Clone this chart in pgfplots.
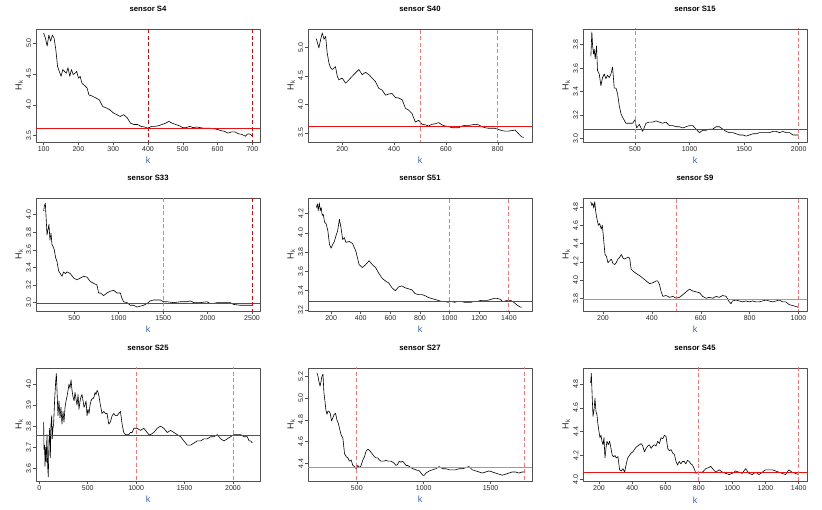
\documentclass[border=0pt]{standalone}
\usepackage{pgfplots}
\pgfplotsset{compat=1.18}
\usepackage{fontspec}
\setmainfont{Liberation Sans}
\definecolor{hred}{RGB}{230,20,20}
\definecolor{dred}{RGB}{205,10,10}
\definecolor{lred}{RGB}{240,120,120}
\definecolor{kblue}{RGB}{54,100,170}
\definecolor{frame}{RGB}{80,80,80}
\newcommand{\vl}[2][lred]{\addplot[#1, line width=0.8pt, dash pattern=on 4pt off 2.5pt] coordinates {(#2,0) (#2,10)};}
\newcommand{\hl}[2][hred]{\addplot[#1, line width=1pt] coordinates {(-1000,#2) (5000,#2)};}
\pgfplotsset{
  panel/.style={
    scale only axis, width=224pt, height=113pt,
    axis line style={frame, line width=0.6pt},
    tick align=outside, xtick pos=left, ytick pos=left,
    major tick length=3pt,
    every tick/.style={frame, line width=0.5pt},
    /pgf/number format/assume math mode=true,
    /pgf/number format/1000 sep={},
    scaled ticks=false,
    ticklabel style={font=\fontsize{7}{8}\selectfont, text=black!85},
    yticklabel style={rotate=90, anchor=south, inner sep=1.5pt, /pgf/number format/.cd, fixed, fixed zerofill, precision=1},
    xticklabel style={inner sep=1.5pt},
    title style={font=\bfseries\fontsize{7.7}{9}\selectfont, at={(axis description cs:0.5,1)}, anchor=base, inner sep=0pt, yshift=11pt},
    xlabel={k},
    xlabel style={font=\fontsize{9}{10}\selectfont, text=kblue, at={(axis description cs:0.5,0)}, anchor=base, inner sep=0pt, yshift=-22pt},
    ylabel={H\textsubscript{k}},
    ylabel style={font=\fontsize{9}{10}\selectfont, text=black!85, at={(axis description cs:-0.058,0.5)}, anchor=south, inner sep=0pt},
    line join=round,
  },
  series/.style={black, line width=0.6pt},
}
\begin{document}
\begin{tikzpicture}
\useasboundingbox (0pt,0pt) rectangle (822pt,-510pt);
% ---------------- Row 1 ----------------
\begin{axis}[panel, at={(36pt,-29pt)}, anchor=north west, title={sensor S4},
  xmin=78, xmax=722, ymin=3.397, ymax=5.227, xtick={100,200,300,400,500,600,700}, ytick={3.5,4.0,4.5,5.0}]
\addplot[series] coordinates {(100,5.16)(105,5.08)(110,4.95)(115,5.13)(120,5.03)(125,5.13)(130,5.08)(135,4.89)(140,4.62)(145,4.54)(150,4.46)(155,4.57)(160,4.54)(165,4.51)(170,4.60)(175,4.46)(180,4.57)(185,4.49)(190,4.51)(195,4.54)(200,4.43)(205,4.46)(210,4.35)(220,4.30)(225,4.27)(230,4.16)(240,4.14)(250,4.11)(260,4.08)(270,3.97)(280,3.95)(290,3.92)(300,3.87)(310,3.84)(320,3.81)(330,3.84)(340,3.79)(350,3.70)(360,3.68)(370,3.68)(380,3.65)(390,3.64)(400,3.62)(410,3.65)(420,3.65)(430,3.66)(440,3.68)(450,3.70)(460,3.73)(470,3.70)(480,3.68)(490,3.66)(500,3.63)(510,3.63)(520,3.65)(530,3.63)(540,3.64)(550,3.63)(560,3.62)(570,3.62)(580,3.62)(590,3.61)(600,3.60)(610,3.58)(620,3.57)(630,3.54)(640,3.56)(650,3.56)(660,3.53)(670,3.52)(680,3.49)(685,3.52)(690,3.53)(695,3.52)(700,3.49)};
\hl{3.61}
\vl[dred]{400}
\vl[dred]{700}
\end{axis}

\begin{axis}[panel, at={(308pt,-29pt)}, anchor=north west, title={sensor S40},
  xmin=68, xmax=932, ymin=3.34, ymax=5.32, xtick={200,400,600,800}, ytick={3.5,4.0,4.5,5.0}]
\addplot[series] coordinates {(100,5.15)(110,4.99)(117,5.14)(123,5.25)(130,5.14)(136,5.19)(142,4.90)(149,4.72)(155,4.64)(162,4.61)(174,4.66)(181,4.49)(187,4.43)(200,4.46)(213,4.37)(226,4.43)(238,4.49)(251,4.55)(264,4.61)(277,4.52)(290,4.56)(303,4.52)(315,4.46)(328,4.40)(341,4.28)(354,4.25)(367,4.16)(379,4.18)(392,4.19)(405,4.12)(418,4.11)(431,4.08)(444,3.93)(456,3.90)(469,3.84)(482,3.69)(495,3.72)(508,3.65)(521,3.64)(533,3.62)(546,3.65)(559,3.66)(572,3.68)(585,3.64)(597,3.62)(610,3.61)(623,3.59)(636,3.59)(649,3.59)(662,3.62)(674,3.63)(687,3.63)(700,3.64)(713,3.65)(726,3.64)(738,3.61)(751,3.59)(764,3.58)(777,3.58)(790,3.58)(803,3.56)(815,3.54)(828,3.53)(841,3.53)(854,3.54)(867,3.55)(879,3.49)(892,3.43)(900,3.42)};
\hl{3.61}
\vl{500}
\vl{800}
\end{axis}

\begin{axis}[panel, at={(583pt,-29pt)}, anchor=north west, title={sensor S15},
  xmin=24, xmax=2076, ymin=2.97, ymax=3.934, xtick={500,1000,1500,2000}, ytick={3.0,3.2,3.4,3.6,3.8}]
\addplot[series] coordinates {(96,3.70)(105,3.91)(112,3.79)(121,3.72)(127,3.76)(136,3.68)(148,3.79)(157,3.58)(173,3.55)(188,3.45)(203,3.52)(219,3.55)(234,3.51)(249,3.54)(265,3.52)(280,3.55)(295,3.61)(310,3.43)(326,3.43)(341,3.38)(356,3.28)(372,3.21)(387,3.18)(417,3.13)(448,3.13)(479,3.13)(500,3.16)(515,3.09)(540,3.12)(570,3.06)(601,3.13)(631,3.14)(662,3.14)(693,3.15)(723,3.14)(754,3.13)(784,3.14)(815,3.11)(846,3.11)(876,3.10)(907,3.10)(938,3.09)(968,3.10)(999,3.11)(1029,3.11)(1060,3.08)(1090,3.05)(1121,3.07)(1151,3.07)(1182,3.08)(1213,3.08)(1243,3.10)(1274,3.10)(1304,3.08)(1335,3.06)(1365,3.05)(1396,3.05)(1427,3.04)(1457,3.03)(1488,3.03)(1518,3.02)(1549,3.03)(1580,3.04)(1610,3.04)(1641,3.05)(1671,3.05)(1702,3.05)(1733,3.05)(1763,3.06)(1794,3.06)(1824,3.05)(1855,3.06)(1885,3.05)(1916,3.05)(1947,3.03)(1977,3.03)(2000,3.03)};
\hl{3.074}
\vl{500}
\vl{2000}
\end{axis}

% ---------------- Row 2 ----------------
\begin{axis}[panel, at={(36pt,-198pt)}, anchor=north west, title={sensor S33},
  xmin=69, xmax=2590, ymin=2.905, ymax=4.19, xtick={500,1000,1500,2000,2500}, ytick={3.0,3.2,3.4,3.6,3.8,4.0}]
\addplot[series] coordinates {(155,4.04)(163,4.10)(174,4.13)(181,4.00)(193,3.77)(204,3.83)(215,3.89)(226,3.71)(238,3.79)(249,3.66)(260,3.64)(275,3.60)(290,3.51)(305,3.47)(324,3.36)(343,3.33)(361,3.30)(380,3.35)(399,3.33)(418,3.35)(455,3.33)(493,3.28)(530,3.26)(568,3.28)(605,3.30)(643,3.29)(680,3.24)(718,3.22)(755,3.20)(774,3.11)(793,3.11)(830,3.08)(868,3.11)(905,3.13)(943,3.14)(980,3.11)(1018,3.11)(1036,3.05)(1055,3.01)(1093,3.00)(1130,2.97)(1168,2.97)(1205,2.95)(1243,2.96)(1280,2.97)(1318,2.99)(1355,3.02)(1393,3.03)(1430,3.03)(1468,3.03)(1505,3.01)(1543,3.01)(1618,3.00)(1693,3.01)(1768,3.01)(1805,3.02)(1843,3.00)(1918,3.00)(1993,3.01)(2030,2.99)(2068,2.99)(2105,3.00)(2180,3.00)(2255,3.00)(2293,2.98)(2368,2.97)(2443,2.97)(2500,2.97)};
\hl{2.99}
\vl{1500}
\vl[dred]{2500}
\end{axis}

\begin{axis}[panel, at={(308pt,-198pt)}, anchor=north west, title={sensor S51},
  xmin=44, xmax=1556, ymin=3.19, ymax=4.36, xtick={200,400,600,800,1000,1200,1400}, ytick={3.2,3.4,3.6,3.8,4.0,4.2}]
\addplot[series] coordinates {(100,4.26)(107,4.30)(113,4.23)(120,4.31)(127,4.23)(133,4.26)(140,4.18)(147,4.19)(156,4.11)(167,4.09)(178,4.02)(189,3.88)(200,3.84)(211,3.88)(222,3.91)(233,3.97)(244,4.02)(256,4.14)(267,4.05)(278,3.93)(289,3.95)(300,3.90)(322,3.91)(344,3.89)(367,3.81)(378,3.74)(389,3.67)(411,3.64)(433,3.67)(456,3.71)(478,3.67)(500,3.64)(522,3.58)(544,3.53)(567,3.50)(589,3.48)(611,3.43)(633,3.40)(656,3.44)(678,3.45)(700,3.43)(722,3.42)(744,3.41)(767,3.37)(789,3.36)(811,3.36)(833,3.35)(856,3.33)(878,3.32)(900,3.31)(922,3.30)(944,3.29)(967,3.29)(989,3.28)(1011,3.29)(1033,3.28)(1056,3.29)(1078,3.29)(1100,3.28)(1122,3.28)(1144,3.28)(1167,3.29)(1189,3.29)(1211,3.30)(1233,3.30)(1256,3.30)(1278,3.31)(1300,3.32)(1322,3.32)(1344,3.31)(1356,3.29)(1367,3.29)(1389,3.30)(1411,3.30)(1433,3.28)(1456,3.25)(1478,3.23)(1489,3.23)};
\hl{3.29}
\vl{1000}
\vl{1400}
\end{axis}

\begin{axis}[panel, at={(583pt,-198pt)}, anchor=north west, title={sensor S9},
  xmin=118, xmax=1035, ymin=3.66, ymax=4.90, xtick={200,400,600,800,1000}, ytick={3.8,4.0,4.2,4.4,4.6,4.8}]
\addplot[series] coordinates {(150,4.86)(154,4.82)(158,4.84)(162,4.79)(166,4.86)(170,4.75)(176,4.66)(181,4.60)(186,4.62)(193,4.56)(197,4.60)(203,4.43)(208,4.28)(214,4.26)(220,4.19)(227,4.21)(234,4.23)(241,4.18)(248,4.17)(254,4.19)(261,4.23)(268,4.25)(275,4.28)(282,4.24)(288,4.23)(295,4.24)(302,4.25)(309,4.24)(315,4.12)(322,4.10)(336,4.07)(349,4.05)(363,4.02)(377,3.99)(390,3.96)(404,3.97)(418,3.99)(424,3.99)(431,3.95)(438,3.87)(445,3.82)(458,3.83)(472,3.81)(486,3.82)(499,3.80)(513,3.81)(527,3.84)(540,3.87)(554,3.90)(567,3.88)(581,3.87)(595,3.86)(608,3.82)(622,3.80)(635,3.81)(649,3.80)(663,3.82)(676,3.81)(690,3.83)(704,3.82)(717,3.76)(724,3.74)(730,3.77)(744,3.78)(758,3.77)(771,3.76)(785,3.77)(798,3.76)(812,3.77)(826,3.76)(839,3.76)(853,3.77)(867,3.78)(880,3.77)(894,3.76)(908,3.77)(921,3.78)(935,3.76)(948,3.76)(962,3.73)(976,3.72)(989,3.71)(1000,3.70)};
\hl[lred]{3.79}
\vl{500}
\vl{1000}
\end{axis}

% ---------------- Row 3 ----------------
\begin{axis}[panel, at={(36pt,-368pt)}, anchor=north west, title={sensor S25},
  xmin=-34, xmax=2279, ymin=3.54, ymax=4.076, xtick={0,500,1000,1500,2000}, ytick={3.6,3.7,3.8,3.9,4.0}]
\addplot[series] coordinates {(45,3.82)(48,3.69)(55,3.71)(59,3.61)(66,3.70)(72,3.63)(79,3.76)(86,3.61)(93,3.56)(100,3.73)(107,3.79)(114,3.65)(121,3.81)(128,3.85)(134,3.74)(141,3.79)(148,3.81)(159,3.93)(169,4.01)(176,4.05)(183,3.97)(193,3.85)(203,3.92)(214,3.84)(224,3.89)(234,3.81)(245,3.87)(255,3.82)(266,3.89)(276,3.92)(286,3.94)(297,3.97)(307,4.00)(317,3.98)(328,4.02)(338,3.97)(348,3.94)(359,3.92)(369,3.96)(379,3.93)(390,3.90)(400,3.95)(410,3.88)(421,3.92)(431,3.94)(441,3.95)(452,3.92)(462,3.89)(472,3.90)(483,3.92)(493,3.85)(503,3.88)(514,3.86)(524,3.90)(534,3.92)(545,3.93)(555,3.93)(566,3.94)(576,3.96)(586,3.95)(597,3.97)(607,3.96)(617,3.94)(631,3.90)(648,3.86)(666,3.87)(683,3.86)(700,3.86)(717,3.81)(734,3.82)(752,3.85)(769,3.86)(786,3.85)(803,3.85)(821,3.86)(838,3.87)(855,3.81)(872,3.77)(890,3.76)(907,3.76)(924,3.76)(941,3.77)(959,3.77)(976,3.79)(993,3.79)(1010,3.79)(1045,3.78)(1079,3.79)(1114,3.77)(1131,3.76)(1148,3.76)(1183,3.77)(1217,3.79)(1252,3.80)(1286,3.79)(1321,3.77)(1355,3.78)(1390,3.77)(1424,3.76)(1459,3.75)(1493,3.73)(1528,3.71)(1562,3.71)(1597,3.72)(1631,3.73)(1666,3.73)(1700,3.74)(1734,3.74)(1769,3.75)(1803,3.75)(1838,3.76)(1872,3.74)(1907,3.73)(1941,3.74)(1976,3.75)(2010,3.76)(2045,3.76)(2079,3.76)(2114,3.75)(2148,3.75)(2166,3.73)(2183,3.73)(2200,3.72)};
\hl{3.754}
\vl{1000}
\vl{2000}
\end{axis}

\begin{axis}[panel, at={(308pt,-368pt)}, anchor=north west, title={sensor S27},
  xmin=135, xmax=1810, ymin=4.237, ymax=5.277, xtick={500,1000,1500}, ytick={4.4,4.6,4.8,5.0,5.2}]
\addplot[series] coordinates {(202,5.23)(210,5.20)(217,5.15)(225,5.11)(232,5.15)(239,5.20)(247,5.22)(254,5.05)(262,4.97)(269,4.89)(277,4.85)(284,4.88)(291,4.88)(301,4.86)(311,4.79)(321,4.82)(331,4.85)(341,4.86)(351,4.80)(361,4.77)(371,4.72)(383,4.66)(396,4.63)(408,4.49)(421,4.46)(433,4.45)(445,4.42)(458,4.43)(470,4.38)(483,4.37)(495,4.35)(507,4.38)(520,4.36)(532,4.38)(545,4.43)(557,4.46)(569,4.51)(582,4.53)(594,4.52)(607,4.50)(619,4.48)(632,4.46)(644,4.45)(656,4.45)(669,4.43)(681,4.42)(694,4.42)(706,4.42)(718,4.43)(731,4.42)(743,4.42)(756,4.42)(768,4.41)(780,4.40)(793,4.38)(805,4.39)(818,4.42)(830,4.41)(843,4.42)(855,4.40)(868,4.38)(880,4.38)(893,4.37)(918,4.35)(943,4.34)(968,4.33)(993,4.29)(1005,4.29)(1017,4.31)(1042,4.33)(1067,4.34)(1091,4.35)(1116,4.37)(1141,4.35)(1166,4.35)(1191,4.34)(1216,4.34)(1240,4.34)(1265,4.35)(1290,4.35)(1315,4.36)(1339,4.37)(1364,4.34)(1389,4.33)(1414,4.32)(1439,4.31)(1464,4.32)(1488,4.33)(1513,4.32)(1538,4.31)(1563,4.30)(1588,4.29)(1613,4.30)(1637,4.31)(1662,4.32)(1687,4.32)(1712,4.31)(1737,4.32)(1750,4.32)};
\hl[lred]{4.363}
\vl{500}
\vl{1750}
\end{axis}

\begin{axis}[panel, at={(583pt,-368pt)}, anchor=north west, title={sensor S45},
  xmin=104, xmax=1450, ymin=3.986, ymax=4.935, xtick={200,400,600,800,1000,1200,1400}, ytick={4.0,4.2,4.4,4.6,4.8}]
\addplot[series] coordinates {(150,4.81)(154,4.89)(158,4.74)(164,4.53)(170,4.58)(176,4.68)(182,4.57)(188,4.54)(194,4.46)(200,4.40)(206,4.35)(212,4.37)(218,4.32)(224,4.29)(230,4.35)(236,4.18)(242,4.26)(248,4.32)(256,4.29)(264,4.32)(272,4.26)(280,4.20)(288,4.19)(296,4.20)(304,4.18)(314,4.19)(324,4.08)(334,4.07)(344,4.09)(354,4.06)(364,4.13)(373,4.18)(383,4.20)(393,4.22)(403,4.23)(413,4.25)(423,4.27)(433,4.28)(443,4.29)(453,4.30)(463,4.28)(473,4.23)(483,4.26)(493,4.28)(503,4.29)(513,4.26)(523,4.28)(533,4.29)(543,4.28)(553,4.32)(563,4.30)(573,4.35)(583,4.34)(593,4.37)(603,4.36)(613,4.26)(623,4.24)(633,4.25)(643,4.22)(653,4.21)(663,4.15)(672,4.12)(682,4.15)(692,4.13)(702,4.15)(712,4.15)(722,4.13)(732,4.16)(742,4.15)(752,4.13)(762,4.12)(772,4.09)(782,4.05)(792,4.06)(802,4.06)(822,4.06)(842,4.09)(862,4.10)(872,4.11)(882,4.09)(902,4.06)(922,4.08)(942,4.06)(962,4.05)(982,4.04)(1001,4.05)(1021,4.07)(1041,4.06)(1061,4.05)(1081,4.09)(1101,4.05)(1121,4.04)(1141,4.06)(1161,4.04)(1181,4.06)(1201,4.08)(1221,4.08)(1241,4.08)(1261,4.07)(1281,4.06)(1301,4.05)(1321,4.04)(1341,4.08)(1360,4.06)(1380,4.05)(1400,4.04)};
\hl{4.059}
\vl{800}
\vl{1400}
\end{axis}
\end{tikzpicture}
\end{document}
